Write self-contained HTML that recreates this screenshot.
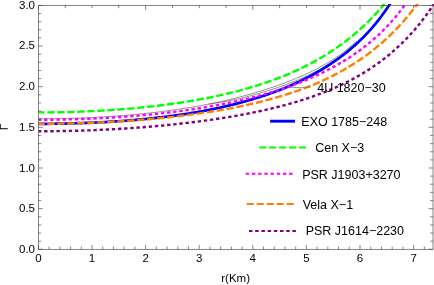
<!DOCTYPE html>
<html><head><meta charset="utf-8"><style>
html,body{margin:0;padding:0;background:#fff;}
svg{display:block;will-change:transform;}
text{font-family:"Liberation Sans",sans-serif;fill:#000;}
.tk text{font-size:11.5px;}
.lg text{font-size:12.5px;}
</style></head><body>
<svg width="434" height="285" viewBox="0 0 434 285">
<rect width="434" height="285" fill="#fff"/>
<defs><clipPath id="c"><rect x="38.4" y="4.0" width="396.6" height="245.3"/></clipPath></defs>
<g clip-path="url(#c)" fill="none" stroke-linejoin="round">
<path d="M38.40 118.79 L40.21 118.79 L42.02 118.78 L43.83 118.77 L45.64 118.76 L47.45 118.75 L49.27 118.74 L51.08 118.72 L52.89 118.70 L54.70 118.67 L56.51 118.64 L58.32 118.61 L60.13 118.58 L61.94 118.54 L63.75 118.51 L65.56 118.46 L67.38 118.42 L69.19 118.37 L71.00 118.32 L72.81 118.27 L74.62 118.21 L76.43 118.15 L78.24 118.09 L80.05 118.02 L81.86 117.95 L83.67 117.88 L85.48 117.80 L87.30 117.73 L89.11 117.65 L90.92 117.56 L92.73 117.47 L94.54 117.38 L96.35 117.29 L98.16 117.19 L99.97 117.09 L101.78 116.99 L103.59 116.88 L105.41 116.77 L107.22 116.66 L109.03 116.54 L110.84 116.42 L112.65 116.30 L114.46 116.17 L116.27 116.04 L118.08 115.91 L119.89 115.77 L121.70 115.63 L123.52 115.49 L125.33 115.34 L127.14 115.19 L128.95 115.03 L130.76 114.87 L132.57 114.71 L134.38 114.54 L136.19 114.37 L138.00 114.20 L139.81 114.02 L141.62 113.84 L143.44 113.66 L145.25 113.47 L147.06 113.27 L148.87 113.08 L150.68 112.88 L152.49 112.67 L154.30 112.46 L156.11 112.25 L157.92 112.03 L159.73 111.81 L161.55 111.58 L163.36 111.35 L165.17 111.12 L166.98 110.88 L168.79 110.64 L170.60 110.39 L172.41 110.14 L174.22 109.88 L176.03 109.62 L177.84 109.35 L179.65 109.08 L181.47 108.81 L183.28 108.53 L185.09 108.24 L186.90 107.95 L188.71 107.66 L190.52 107.36 L192.33 107.05 L194.14 106.74 L195.95 106.43 L197.76 106.11 L199.58 105.79 L201.39 105.46 L203.20 105.12 L205.01 104.78 L206.82 104.43 L208.63 104.08 L210.44 103.73 L212.25 103.36 L214.06 103.00 L215.87 102.62 L217.68 102.24 L219.50 101.86 L221.31 101.46 L223.12 101.07 L224.93 100.66 L226.74 100.24 L228.55 99.81 L230.36 99.37 L232.17 98.93 L233.98 98.47 L235.79 98.02 L237.61 97.55 L239.42 97.08 L241.23 96.61 L243.04 96.12 L244.85 95.63 L246.66 95.13 L248.47 94.62 L250.28 94.11 L252.09 93.59 L253.90 93.06 L255.72 92.52 L257.53 91.98 L259.34 91.43 L261.15 90.87 L262.96 90.30 L264.77 89.72 L266.58 89.15 L268.39 88.57 L270.20 87.98 L272.01 87.38 L273.82 86.78 L275.64 86.16 L277.45 85.53 L279.26 84.89 L281.07 84.25 L282.88 83.59 L284.69 82.92 L286.50 82.24 L288.31 81.54 L290.12 80.84 L291.93 80.12 L293.75 79.39 L295.56 78.65 L297.37 77.89 L299.18 77.12 L300.99 76.34 L302.80 75.54 L304.61 74.72 L306.42 73.89 L308.23 73.05 L310.04 72.18 L311.85 71.30 L313.67 70.40 L315.48 69.48 L317.29 68.54 L319.10 67.58 L320.91 66.60 L322.72 65.59 L324.53 64.57 L326.34 63.51 L328.15 62.44 L329.96 61.33 L331.78 60.20 L333.59 59.04 L335.40 57.85 L337.21 56.63 L339.02 55.37 L340.83 54.08 L342.64 52.76 L344.45 51.39 L346.26 49.98 L348.07 48.53 L349.88 47.04 L351.70 45.50 L353.51 43.91 L355.32 42.26 L357.13 40.56" stroke="#555" stroke-width="0.65"/>
<path d="M208.63 104.11 L210.44 103.85 L212.25 103.58 L214.06 103.30 L215.87 103.02 L217.68 102.73 L219.50 102.43 L221.31 102.13 L223.12 101.82 L224.93 101.51 L226.74 101.18 L228.55 100.84 L230.36 100.49 L232.17 100.13 L233.98 99.77 L235.79 99.41 L237.61 99.03 L239.42 98.65 L241.23 98.22 L243.04 97.76 L244.85 97.29 L246.66 96.81 L248.47 96.32 L250.28 95.83 L252.09 95.33 L253.90 94.82 L255.72 94.31 L257.53 93.79 L259.34 93.25 L261.15 92.71 L262.96 92.17 L264.77 91.61 L266.58 91.06 L268.39 90.50 L270.20 89.93 L272.01 89.36 L273.82 88.77 L275.64 88.17 L277.45 87.57 L279.26 86.95 L281.07 86.32 L282.88 85.69 L284.69 85.04 L286.50 84.38 L288.31 83.71 L290.12 83.02 L291.93 82.33 L293.75 81.62 L295.56 80.90 L297.37 80.16 L299.18 79.41 L300.99 78.62 L302.80 77.79 L304.61 76.95 L306.42 76.09 L308.23 75.22 L310.04 74.32 L311.85 73.41 L313.67 72.49 L315.48 71.54 L317.29 70.57 L319.10 69.58 L320.91 68.57 L322.72 67.54 L324.53 66.48 L326.34 65.40 L328.15 64.30 L329.96 63.17 L331.78 62.01 L333.59 60.82 L335.40 59.60 L337.21 58.35 L339.02 57.07 L340.83 55.75 L342.64 54.39 L344.45 53.00 L346.26 51.55 L348.07 50.04 L349.88 48.50 L351.70 46.90 L353.51 45.26 L355.32 43.56 L357.13 41.81" stroke="#555" stroke-width="0.65"/>
<path d="M38.40 123.83 L40.21 123.83 L42.02 123.82 L43.83 123.82 L45.64 123.81 L47.45 123.80 L49.27 123.78 L51.08 123.77 L52.89 123.75 L54.70 123.73 L56.51 123.70 L58.32 123.68 L60.13 123.65 L61.94 123.61 L63.75 123.58 L65.56 123.54 L67.38 123.50 L69.19 123.46 L71.00 123.42 L72.81 123.37 L74.62 123.32 L76.43 123.26 L78.24 123.21 L80.05 123.15 L81.86 123.09 L83.67 123.02 L85.48 122.96 L87.30 122.89 L89.11 122.82 L90.92 122.74 L92.73 122.66 L94.54 122.58 L96.35 122.50 L98.16 122.41 L99.97 122.32 L101.78 122.23 L103.59 122.13 L105.41 122.03 L107.22 121.93 L109.03 121.83 L110.84 121.72 L112.65 121.61 L114.46 121.49 L116.27 121.37 L118.08 121.25 L119.89 121.13 L121.70 121.00 L123.52 120.87 L125.33 120.73 L127.14 120.59 L128.95 120.45 L130.76 120.31 L132.57 120.16 L134.38 120.01 L136.19 119.85 L138.00 119.69 L139.81 119.53 L141.62 119.36 L143.44 119.19 L145.25 119.01 L147.06 118.83 L148.87 118.65 L150.68 118.46 L152.49 118.27 L154.30 118.07 L156.11 117.87 L157.92 117.67 L159.73 117.46 L161.55 117.25 L163.36 117.03 L165.17 116.81 L166.98 116.58 L168.79 116.35 L170.60 116.11 L172.41 115.87 L174.22 115.63 L176.03 115.38 L177.84 115.12 L179.65 114.86 L181.47 114.60 L183.28 114.33 L185.09 114.05 L186.90 113.77 L188.71 113.48 L190.52 113.19 L192.33 112.89 L194.14 112.59 L195.95 112.28 L197.76 111.97 L199.58 111.65 L201.39 111.32 L203.20 110.99 L205.01 110.65 L206.82 110.31 L208.63 109.96 L210.44 109.60 L212.25 109.23 L214.06 108.86 L215.87 108.49 L217.68 108.10 L219.50 107.71 L221.31 107.31 L223.12 106.91 L224.93 106.50 L226.74 106.08 L228.55 105.65 L230.36 105.22 L232.17 104.78 L233.98 104.33 L235.79 103.87 L237.61 103.40 L239.42 102.93 L241.23 102.45 L243.04 101.96 L244.85 101.46 L246.66 100.95 L248.47 100.43 L250.28 99.91 L252.09 99.37 L253.90 98.83 L255.72 98.27 L257.53 97.71 L259.34 97.14 L261.15 96.55 L262.96 95.96 L264.77 95.35 L266.58 94.74 L268.39 94.11 L270.20 93.48 L272.01 92.83 L273.82 92.17 L275.64 91.50 L277.45 90.82 L279.26 90.12 L281.07 89.41 L282.88 88.69 L284.69 87.96 L286.50 87.22 L288.31 86.46 L290.12 85.68 L291.93 84.89 L293.75 84.09 L295.56 83.28 L297.37 82.44 L299.18 81.60 L300.99 80.73 L302.80 79.85 L304.61 78.96 L306.42 78.05 L308.23 77.12 L310.04 76.17 L311.85 75.20 L313.67 74.22 L315.48 73.21 L317.29 72.19 L319.10 71.14 L320.91 70.08 L322.72 68.99 L324.53 67.88 L326.34 66.75 L328.15 65.59 L329.96 64.41 L331.78 63.21 L333.59 61.98 L335.40 60.72 L337.21 59.44 L339.02 58.13 L340.83 56.78 L342.64 55.41 L344.45 54.01 L346.26 52.57 L348.07 51.11 L349.88 49.60 L351.70 48.06 L353.51 46.49 L355.32 44.87 L357.13 43.22 L358.94 41.52 L360.75 39.78 L362.56 38.00 L364.37 36.16 L366.18 34.28 L367.99 32.35 L369.81 30.37 L371.62 28.33 L373.43 26.23 L375.24 24.07 L377.05 21.85 L378.86 19.56 L380.67 17.20 L382.48 14.77 L384.29 12.27 L386.10 9.68 L387.92 7.01 L389.73 4.25 L391.54 1.40 L393.35 -1.55 L395.16 -4.60" stroke="#0000ff" stroke-width="2.7"/>
<path d="M38.40 112.40 L40.21 112.39 L42.02 112.39 L43.83 112.38 L45.64 112.37 L47.45 112.36 L49.27 112.34 L51.08 112.33 L52.89 112.30 L54.70 112.28 L56.51 112.25 L58.32 112.22 L60.13 112.19 L61.94 112.15 L63.75 112.11 L65.56 112.07 L67.38 112.03 L69.19 111.98 L71.00 111.93 L72.81 111.88 L74.62 111.82 L76.43 111.76 L78.24 111.70 L80.05 111.63 L81.86 111.56 L83.67 111.49 L85.48 111.42 L87.30 111.34 L89.11 111.26 L90.92 111.17 L92.73 111.09 L94.54 111.00 L96.35 110.90 L98.16 110.81 L99.97 110.71 L101.78 110.61 L103.59 110.50 L105.41 110.39 L107.22 110.28 L109.03 110.16 L110.84 110.04 L112.65 109.92 L114.46 109.80 L116.27 109.67 L118.08 109.53 L119.89 109.40 L121.70 109.26 L123.52 109.12 L125.33 108.97 L127.14 108.82 L128.95 108.67 L130.76 108.51 L132.57 108.35 L134.38 108.18 L136.19 108.01 L138.00 107.84 L139.81 107.67 L141.62 107.49 L143.44 107.30 L145.25 107.12 L147.06 106.92 L148.87 106.73 L150.68 106.53 L152.49 106.33 L154.30 106.12 L156.11 105.91 L157.92 105.69 L159.73 105.47 L161.55 105.25 L163.36 105.02 L165.17 104.78 L166.98 104.55 L168.79 104.30 L170.60 104.06 L172.41 103.80 L174.22 103.55 L176.03 103.29 L177.84 103.02 L179.65 102.75 L181.47 102.47 L183.28 102.19 L185.09 101.91 L186.90 101.62 L188.71 101.32 L190.52 101.02 L192.33 100.71 L194.14 100.40 L195.95 100.08 L197.76 99.76 L199.58 99.43 L201.39 99.09 L203.20 98.75 L205.01 98.41 L206.82 98.05 L208.63 97.70 L210.44 97.33 L212.25 96.96 L214.06 96.58 L215.87 96.20 L217.68 95.81 L219.50 95.41 L221.31 95.01 L223.12 94.60 L224.93 94.18 L226.74 93.75 L228.55 93.32 L230.36 92.88 L232.17 92.43 L233.98 91.98 L235.79 91.52 L237.61 91.05 L239.42 90.57 L241.23 90.08 L243.04 89.59 L244.85 89.08 L246.66 88.57 L248.47 88.05 L250.28 87.52 L252.09 86.98 L253.90 86.44 L255.72 85.88 L257.53 85.31 L259.34 84.74 L261.15 84.15 L262.96 83.55 L264.77 82.95 L266.58 82.33 L268.39 81.70 L270.20 81.07 L272.01 80.42 L273.82 79.76 L275.64 79.09 L277.45 78.40 L279.26 77.71 L281.07 77.00 L282.88 76.28 L284.69 75.55 L286.50 74.80 L288.31 74.04 L290.12 73.27 L291.93 72.48 L293.75 71.68 L295.56 70.87 L297.37 70.04 L299.18 69.20 L300.99 68.34 L302.80 67.46 L304.61 66.57 L306.42 65.67 L308.23 64.74 L310.04 63.80 L311.85 62.85 L313.67 61.87 L315.48 60.88 L317.29 59.87 L319.10 58.84 L320.91 57.78 L322.72 56.71 L324.53 55.62 L326.34 54.51 L328.15 53.38 L329.96 52.23 L331.78 51.05 L333.59 49.85 L335.40 48.63 L337.21 47.38 L339.02 46.11 L340.83 44.81 L342.64 43.49 L344.45 42.14 L346.26 40.76 L348.07 39.35 L349.88 37.92 L351.70 36.45 L353.51 34.96 L355.32 33.43 L357.13 31.88 L358.94 30.29 L360.75 28.66 L362.56 27.00 L364.37 25.31 L366.18 23.58 L367.99 21.81 L369.81 20.00 L371.62 18.15 L373.43 16.26 L375.24 14.32 L377.05 12.34 L378.86 10.32 L380.67 8.25 L382.48 6.13 L384.29 3.96 L386.10 1.74 L387.92 -0.53 L389.73 -2.86" stroke="#00ff00" stroke-width="2.4" stroke-dasharray="7.3 2.7" stroke-dashoffset="1.1"/>
<path d="M38.40 119.77 L40.21 119.76 L42.02 119.76 L43.83 119.75 L45.64 119.75 L47.45 119.73 L49.27 119.72 L51.08 119.70 L52.89 119.68 L54.70 119.66 L56.51 119.64 L58.32 119.61 L60.13 119.58 L61.94 119.55 L63.75 119.51 L65.56 119.47 L67.38 119.43 L69.19 119.39 L71.00 119.34 L72.81 119.29 L74.62 119.24 L76.43 119.19 L78.24 119.13 L80.05 119.07 L81.86 119.01 L83.67 118.94 L85.48 118.88 L87.30 118.81 L89.11 118.73 L90.92 118.66 L92.73 118.58 L94.54 118.50 L96.35 118.41 L98.16 118.32 L99.97 118.23 L101.78 118.14 L103.59 118.04 L105.41 117.95 L107.22 117.84 L109.03 117.74 L110.84 117.63 L112.65 117.52 L114.46 117.41 L116.27 117.29 L118.08 117.17 L119.89 117.05 L121.70 116.92 L123.52 116.79 L125.33 116.66 L127.14 116.53 L128.95 116.39 L130.76 116.25 L132.57 116.10 L134.38 115.95 L136.19 115.80 L138.00 115.65 L139.81 115.49 L141.62 115.33 L143.44 115.17 L145.25 115.00 L147.06 114.83 L148.87 114.65 L150.68 114.47 L152.49 114.29 L154.30 114.11 L156.11 113.92 L157.92 113.72 L159.73 113.53 L161.55 113.33 L163.36 113.12 L165.17 112.92 L166.98 112.71 L168.79 112.49 L170.60 112.27 L172.41 112.05 L174.22 111.82 L176.03 111.59 L177.84 111.36 L179.65 111.12 L181.47 110.87 L183.28 110.63 L185.09 110.37 L186.90 110.12 L188.71 109.86 L190.52 109.59 L192.33 109.32 L194.14 109.05 L195.95 108.77 L197.76 108.49 L199.58 108.20 L201.39 107.91 L203.20 107.61 L205.01 107.31 L206.82 107.00 L208.63 106.69 L210.44 106.37 L212.25 106.05 L214.06 105.73 L215.87 105.39 L217.68 105.06 L219.50 104.71 L221.31 104.36 L223.12 104.01 L224.93 103.65 L226.74 103.28 L228.55 102.91 L230.36 102.54 L232.17 102.15 L233.98 101.76 L235.79 101.37 L237.61 100.97 L239.42 100.56 L241.23 100.14 L243.04 99.72 L244.85 99.30 L246.66 98.86 L248.47 98.42 L250.28 97.97 L252.09 97.52 L253.90 97.05 L255.72 96.59 L257.53 96.11 L259.34 95.62 L261.15 95.13 L262.96 94.63 L264.77 94.12 L266.58 93.61 L268.39 93.08 L270.20 92.55 L272.01 92.01 L273.82 91.45 L275.64 90.90 L277.45 90.33 L279.26 89.75 L281.07 89.16 L282.88 88.56 L284.69 87.96 L286.50 87.34 L288.31 86.71 L290.12 86.08 L291.93 85.43 L293.75 84.77 L295.56 84.10 L297.37 83.42 L299.18 82.72 L300.99 82.02 L302.80 81.30 L304.61 80.57 L306.42 79.83 L308.23 79.07 L310.04 78.30 L311.85 77.52 L313.67 76.72 L315.48 75.91 L317.29 75.08 L319.10 74.24 L320.91 73.39 L322.72 72.52 L324.53 71.63 L326.34 70.72 L328.15 69.80 L329.96 68.86 L331.78 67.90 L333.59 66.93 L335.40 65.93 L337.21 64.92 L339.02 63.88 L340.83 62.83 L342.64 61.75 L344.45 60.65 L346.26 59.53 L348.07 58.39 L349.88 57.22 L351.70 56.02 L353.51 54.81 L355.32 53.56 L357.13 52.29 L358.94 50.99 L360.75 49.66 L362.56 48.30 L364.37 46.91 L366.18 45.49 L367.99 44.04 L369.81 42.55 L371.62 41.03 L373.43 39.47 L375.24 37.87 L377.05 36.24 L378.86 34.56 L380.67 32.84 L382.48 31.08 L384.29 29.27 L386.10 27.41 L387.92 25.51 L389.73 23.55 L391.54 21.54 L393.35 19.48 L395.16 17.35 L396.97 15.17 L398.78 12.93 L400.59 10.62 L402.40 8.24 L404.21 5.79 L406.02 3.26 L407.84 0.66 L409.65 -2.02 L411.46 -4.79" stroke="#ff00ff" stroke-width="2.4" stroke-dasharray="3.4 2.76" stroke-dashoffset="0.45"/>
<path d="M38.40 123.84 L40.21 123.84 L42.02 123.83 L43.83 123.83 L45.64 123.82 L47.45 123.81 L49.27 123.79 L51.08 123.78 L52.89 123.76 L54.70 123.74 L56.51 123.72 L58.32 123.69 L60.13 123.67 L61.94 123.64 L63.75 123.60 L65.56 123.57 L67.38 123.53 L69.19 123.49 L71.00 123.45 L72.81 123.40 L74.62 123.36 L76.43 123.31 L78.24 123.26 L80.05 123.20 L81.86 123.14 L83.67 123.08 L85.48 123.02 L87.30 122.96 L89.11 122.89 L90.92 122.82 L92.73 122.75 L94.54 122.68 L96.35 122.60 L98.16 122.52 L99.97 122.44 L101.78 122.35 L103.59 122.27 L105.41 122.18 L107.22 122.08 L109.03 121.99 L110.84 121.89 L112.65 121.79 L114.46 121.69 L116.27 121.58 L118.08 121.47 L119.89 121.36 L121.70 121.25 L123.52 121.13 L125.33 121.01 L127.14 120.89 L128.95 120.77 L130.76 120.64 L132.57 120.51 L134.38 120.37 L136.19 120.24 L138.00 120.10 L139.81 119.96 L141.62 119.81 L143.44 119.66 L145.25 119.51 L147.06 119.36 L148.87 119.20 L150.68 119.04 L152.49 118.88 L154.30 118.71 L156.11 118.54 L157.92 118.37 L159.73 118.19 L161.55 118.01 L163.36 117.83 L165.17 117.64 L166.98 117.45 L168.79 117.26 L170.60 117.07 L172.41 116.87 L174.22 116.66 L176.03 116.46 L177.84 116.25 L179.65 116.03 L181.47 115.81 L183.28 115.59 L185.09 115.37 L186.90 115.14 L188.71 114.90 L190.52 114.67 L192.33 114.43 L194.14 114.18 L195.95 113.93 L197.76 113.68 L199.58 113.42 L201.39 113.16 L203.20 112.89 L205.01 112.62 L206.82 112.35 L208.63 112.07 L210.44 111.78 L212.25 111.50 L214.06 111.20 L215.87 110.90 L217.68 110.60 L219.50 110.29 L221.31 109.98 L223.12 109.66 L224.93 109.34 L226.74 109.01 L228.55 108.67 L230.36 108.33 L232.17 107.99 L233.98 107.63 L235.79 107.28 L237.61 106.91 L239.42 106.55 L241.23 106.17 L243.04 105.79 L244.85 105.40 L246.66 105.01 L248.47 104.61 L250.28 104.20 L252.09 103.78 L253.90 103.36 L255.72 102.94 L257.53 102.50 L259.34 102.06 L261.15 101.61 L262.96 101.15 L264.77 100.68 L266.58 100.21 L268.39 99.73 L270.20 99.24 L272.01 98.74 L273.82 98.23 L275.64 97.72 L277.45 97.19 L279.26 96.66 L281.07 96.12 L282.88 95.57 L284.69 95.00 L286.50 94.43 L288.31 93.85 L290.12 93.26 L291.93 92.66 L293.75 92.04 L295.56 91.42 L297.37 90.78 L299.18 90.14 L300.99 89.48 L302.80 88.81 L304.61 88.13 L306.42 87.43 L308.23 86.73 L310.04 86.01 L311.85 85.27 L313.67 84.53 L315.48 83.77 L317.29 82.99 L319.10 82.20 L320.91 81.40 L322.72 80.58 L324.53 79.74 L326.34 78.89 L328.15 78.03 L329.96 77.15 L331.78 76.25 L333.59 75.33 L335.40 74.40 L337.21 73.44 L339.02 72.47 L340.83 71.48 L342.64 70.47 L344.45 69.44 L346.26 68.40 L348.07 67.33 L349.88 66.24 L351.70 65.12 L353.51 63.99 L355.32 62.83 L357.13 61.65 L358.94 60.44 L360.75 59.21 L362.56 57.96 L364.37 56.68 L366.18 55.37 L367.99 54.04 L369.81 52.68 L371.62 51.29 L373.43 49.87 L375.24 48.42 L377.05 46.94 L378.86 45.43 L380.67 43.89 L382.48 42.31 L384.29 40.70 L386.10 39.06 L387.92 37.38 L389.73 35.66 L391.54 33.90 L393.35 32.11 L395.16 30.27 L396.97 28.40 L398.78 26.48 L400.59 24.52 L402.40 22.52 L404.21 20.46 L406.02 18.36 L407.84 16.22 L409.65 14.02 L411.46 11.77 L413.27 9.47 L415.08 7.11 L416.89 4.70 L418.70 2.22 L420.51 -0.31 L422.32 -2.90" stroke="#ff8000" stroke-width="2.4" stroke-dasharray="7.3 2.7" stroke-dashoffset="1.1"/>
<path d="M38.40 131.27 L40.21 131.27 L42.02 131.26 L43.83 131.26 L45.64 131.25 L47.45 131.24 L49.27 131.22 L51.08 131.21 L52.89 131.19 L54.70 131.17 L56.51 131.15 L58.32 131.12 L60.13 131.09 L61.94 131.06 L63.75 131.03 L65.56 131.00 L67.38 130.96 L69.19 130.92 L71.00 130.88 L72.81 130.83 L74.62 130.79 L76.43 130.74 L78.24 130.69 L80.05 130.63 L81.86 130.58 L83.67 130.52 L85.48 130.46 L87.30 130.39 L89.11 130.33 L90.92 130.26 L92.73 130.19 L94.54 130.11 L96.35 130.04 L98.16 129.96 L99.97 129.88 L101.78 129.79 L103.59 129.71 L105.41 129.62 L107.22 129.53 L109.03 129.44 L110.84 129.34 L112.65 129.24 L114.46 129.14 L116.27 129.04 L118.08 128.93 L119.89 128.82 L121.70 128.71 L123.52 128.60 L125.33 128.48 L127.14 128.36 L128.95 128.24 L130.76 128.12 L132.57 127.99 L134.38 127.86 L136.19 127.73 L138.00 127.60 L139.81 127.46 L141.62 127.32 L143.44 127.18 L145.25 127.04 L147.06 126.89 L148.87 126.74 L150.68 126.59 L152.49 126.43 L154.30 126.27 L156.11 126.11 L157.92 125.95 L159.73 125.78 L161.55 125.61 L163.36 125.44 L165.17 125.26 L166.98 125.08 L168.79 124.90 L170.60 124.72 L172.41 124.53 L174.22 124.34 L176.03 124.15 L177.84 123.95 L179.65 123.75 L181.47 123.55 L183.28 123.35 L185.09 123.14 L186.90 122.92 L188.71 122.71 L190.52 122.49 L192.33 122.27 L194.14 122.04 L195.95 121.82 L197.76 121.58 L199.58 121.35 L201.39 121.11 L203.20 120.87 L205.01 120.62 L206.82 120.37 L208.63 120.12 L210.44 119.86 L212.25 119.60 L214.06 119.33 L215.87 119.06 L217.68 118.79 L219.50 118.51 L221.31 118.23 L223.12 117.95 L224.93 117.66 L226.74 117.36 L228.55 117.07 L230.36 116.76 L232.17 116.45 L233.98 116.14 L235.79 115.83 L237.61 115.51 L239.42 115.18 L241.23 114.85 L243.04 114.51 L244.85 114.17 L246.66 113.82 L248.47 113.47 L250.28 113.11 L252.09 112.75 L253.90 112.38 L255.72 112.01 L257.53 111.63 L259.34 111.24 L261.15 110.85 L262.96 110.45 L264.77 110.05 L266.58 109.64 L268.39 109.22 L270.20 108.80 L272.01 108.37 L273.82 107.93 L275.64 107.48 L277.45 107.03 L279.26 106.57 L281.07 106.10 L282.88 105.63 L284.69 105.14 L286.50 104.65 L288.31 104.15 L290.12 103.65 L291.93 103.13 L293.75 102.60 L295.56 102.07 L297.37 101.53 L299.18 100.97 L300.99 100.41 L302.80 99.84 L304.61 99.25 L306.42 98.66 L308.23 98.06 L310.04 97.44 L311.85 96.82 L313.67 96.18 L315.48 95.53 L317.29 94.87 L319.10 94.20 L320.91 93.51 L322.72 92.81 L324.53 92.10 L326.34 91.38 L328.15 90.64 L329.96 89.89 L331.78 89.12 L333.59 88.34 L335.40 87.54 L337.21 86.73 L339.02 85.90 L340.83 85.06 L342.64 84.20 L344.45 83.32 L346.26 82.42 L348.07 81.51 L349.88 80.57 L351.70 79.62 L353.51 78.65 L355.32 77.66 L357.13 76.65 L358.94 75.62 L360.75 74.56 L362.56 73.49 L364.37 72.39 L366.18 71.27 L367.99 70.12 L369.81 68.95 L371.62 67.75 L373.43 66.53 L375.24 65.28 L377.05 64.00 L378.86 62.70 L380.67 61.36 L382.48 60.00 L384.29 58.60 L386.10 57.18 L387.92 55.72 L389.73 54.23 L391.54 52.70 L393.35 51.14 L395.16 49.54 L396.97 47.90 L398.78 46.23 L400.59 44.51 L402.40 42.76 L404.21 40.96 L406.02 39.12 L407.84 37.23 L409.65 35.30 L411.46 33.31 L413.27 31.28 L415.08 29.20 L416.89 27.07 L418.70 24.88 L420.51 22.63 L422.32 20.33 L424.13 17.96 L425.95 15.54 L427.76 13.05 L429.57 10.49 L431.38 7.86 L433.19 5.16 L435.00 2.39" stroke="#800080" stroke-width="2.4" stroke-dasharray="3.4 2.76" stroke-dashoffset="0.45"/>
</g>
<g fill="none" stroke="#444" stroke-width="0.65">
<rect x="38.4" y="5.4" width="394.6" height="243.9"/>
<path d="M38.40 249.30 v-4.40 M49.12 249.30 v-2.80 M59.84 249.30 v-2.80 M70.56 249.30 v-2.80 M81.28 249.30 v-2.80 M92.00 249.30 v-4.40 M102.72 249.30 v-2.80 M113.44 249.30 v-2.80 M124.16 249.30 v-2.80 M134.88 249.30 v-2.80 M145.60 249.30 v-4.40 M156.32 249.30 v-2.80 M167.04 249.30 v-2.80 M177.76 249.30 v-2.80 M188.48 249.30 v-2.80 M199.20 249.30 v-4.40 M209.92 249.30 v-2.80 M220.64 249.30 v-2.80 M231.36 249.30 v-2.80 M242.08 249.30 v-2.80 M252.80 249.30 v-4.40 M263.52 249.30 v-2.80 M274.24 249.30 v-2.80 M284.96 249.30 v-2.80 M295.68 249.30 v-2.80 M306.40 249.30 v-4.40 M317.12 249.30 v-2.80 M327.84 249.30 v-2.80 M338.56 249.30 v-2.80 M349.28 249.30 v-2.80 M360.00 249.30 v-4.40 M370.72 249.30 v-2.80 M381.44 249.30 v-2.80 M392.16 249.30 v-2.80 M402.88 249.30 v-2.80 M413.60 249.30 v-4.40 M424.32 249.30 v-2.80 M38.40 5.40 v4.40 M65.20 5.40 v2.80 M92.00 5.40 v2.80 M118.80 5.40 v2.80 M145.60 5.40 v4.40 M172.40 5.40 v2.80 M199.20 5.40 v2.80 M226.00 5.40 v2.80 M252.80 5.40 v4.40 M279.60 5.40 v2.80 M306.40 5.40 v2.80 M333.20 5.40 v2.80 M360.00 5.40 v4.40 M386.80 5.40 v2.80 M413.60 5.40 v2.80 M38.40 249.30 h4.40 M433.00 249.30 h-4.40 M38.40 241.17 h2.80 M433.00 241.17 h-2.80 M38.40 233.04 h2.80 M433.00 233.04 h-2.80 M38.40 224.91 h2.80 M433.00 224.91 h-2.80 M38.40 216.78 h2.80 M433.00 216.78 h-2.80 M38.40 208.65 h4.40 M433.00 208.65 h-4.40 M38.40 200.52 h2.80 M433.00 200.52 h-2.80 M38.40 192.39 h2.80 M433.00 192.39 h-2.80 M38.40 184.26 h2.80 M433.00 184.26 h-2.80 M38.40 176.13 h2.80 M433.00 176.13 h-2.80 M38.40 168.00 h4.40 M433.00 168.00 h-4.40 M38.40 159.87 h2.80 M433.00 159.87 h-2.80 M38.40 151.74 h2.80 M433.00 151.74 h-2.80 M38.40 143.61 h2.80 M433.00 143.61 h-2.80 M38.40 135.48 h2.80 M433.00 135.48 h-2.80 M38.40 127.35 h4.40 M433.00 127.35 h-4.40 M38.40 119.22 h2.80 M433.00 119.22 h-2.80 M38.40 111.09 h2.80 M433.00 111.09 h-2.80 M38.40 102.96 h2.80 M433.00 102.96 h-2.80 M38.40 94.83 h2.80 M433.00 94.83 h-2.80 M38.40 86.70 h4.40 M433.00 86.70 h-4.40 M38.40 78.57 h2.80 M433.00 78.57 h-2.80 M38.40 70.44 h2.80 M433.00 70.44 h-2.80 M38.40 62.31 h2.80 M433.00 62.31 h-2.80 M38.40 54.18 h2.80 M433.00 54.18 h-2.80 M38.40 46.05 h4.40 M433.00 46.05 h-4.40 M38.40 37.92 h2.80 M433.00 37.92 h-2.80 M38.40 29.79 h2.80 M433.00 29.79 h-2.80 M38.40 21.66 h2.80 M433.00 21.66 h-2.80 M38.40 13.53 h2.80 M433.00 13.53 h-2.80 M38.40 5.40 h4.40 M433.00 5.40 h-4.40"/>
</g>
<g class="tk"><text x="38.40" y="262.3" text-anchor="middle">0</text><text x="92.00" y="262.3" text-anchor="middle">1</text><text x="145.60" y="262.3" text-anchor="middle">2</text><text x="199.20" y="262.3" text-anchor="middle">3</text><text x="252.80" y="262.3" text-anchor="middle">4</text><text x="306.40" y="262.3" text-anchor="middle">5</text><text x="360.00" y="262.3" text-anchor="middle">6</text><text x="413.60" y="262.3" text-anchor="middle">7</text><text x="35" y="253.00" text-anchor="end">0.0</text><text x="35" y="212.26" text-anchor="end">0.5</text><text x="35" y="171.52" text-anchor="end">1.0</text><text x="35" y="130.78" text-anchor="end">1.5</text><text x="35" y="90.04" text-anchor="end">2.0</text><text x="35" y="49.30" text-anchor="end">2.5</text><text x="35" y="8.56" text-anchor="end">3.0</text>
<text x="235.6" y="282.2" text-anchor="middle">r(Km)</text>
</g>
<g stroke="#000" stroke-width="1.2" fill="none"><path d="M0 128.75 H7.85 M0.15 129.35 V124.1"/></g>
<g class="lg" fill="none">
<path d="M289.5 87.6 H310" stroke="#777" stroke-width="0.8"/>
<text x="317.2" y="92">4U 1820−30</text>
<path d="M270.1 121.2 H295" stroke="#0000ff" stroke-width="2.9"/>
<text x="301.3" y="126">EXO 1785−248</text>
<path d="M259.2 147.4 H306" stroke="#00ff00" stroke-width="2" stroke-dasharray="7.1 2.85"/>
<text x="315.2" y="152.2">Cen X−3</text>
<path d="M245.7 173.7 H292.6" stroke="#ff00ff" stroke-width="2" stroke-dasharray="3.5 2.7"/>
<text x="302.2" y="178.5">PSR J1903+3270</text>
<path d="M246.7 204 H293.9" stroke="#ff8000" stroke-width="2" stroke-dasharray="7.1 2.9"/>
<text x="302.7" y="209.3">Vela X−1</text>
<path d="M249 231 H296" stroke="#800080" stroke-width="2" stroke-dasharray="3.5 2.7"/>
<text x="305.7" y="235.2">PSR J1614−2230</text>
</g>
</svg>
</body></html>
